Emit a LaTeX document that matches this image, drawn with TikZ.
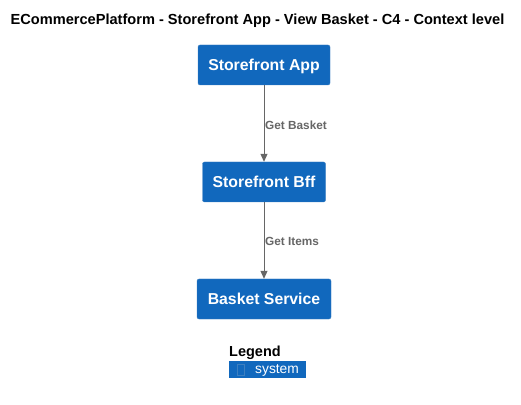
\documentclass[tikz,border=0pt]{standalone}
\usepackage{fontspec}
\setmainfont{Liberation Sans}
\usetikzlibrary{arrows.meta}
\definecolor{sysblue}{HTML}{1168BD}
\definecolor{sysborder}{HTML}{3C7FC0}
\definecolor{relgray}{HTML}{666666}
\tikzset{
  sysbox/.style={draw=sysborder, fill=sysblue, rounded corners=2pt, minimum height=40pt, inner xsep=8pt, text depth=0pt, text=white, font=\bfseries\fontsize{15.8}{17}\selectfont},
  rel/.style={draw=relgray, line width=0.9pt, -{Triangle[length=8pt,width=7pt]}},
  rellabel/.style={text=relgray, font=\bfseries\fontsize{11.8}{13}\selectfont, anchor=west, inner sep=0pt}
}
\begin{document}
\begin{tikzpicture}[x=1pt,y=1pt]
\useasboundingbox (0,0) rectangle (521,404);
\node[font=\bfseries\fontsize{14.6}{16}\selectfont, anchor=center] (title) at (257.5,383) {ECommercePlatform - Storefront App - View Basket - C4 - Context level};
\node[sysbox, minimum width=132pt] (app) at (264,339) {Storefront App};
\node[sysbox, minimum width=123pt] (bff) at (264,222) {Storefront Bff};
\node[sysbox, minimum width=134pt] (basket) at (264,105) {Basket Service};
\draw[rel] (app) -- (bff);
\draw[rel] (bff) -- (basket);
\node[rellabel] (l1) at (265,279) {Get Basket};
\node[rellabel] (l2) at (265,163) {Get Items};
\node[font=\bfseries\fontsize{14.5}{16}\selectfont, anchor=west, inner sep=0pt] (legend) at (229,51) {Legend};
\node[fill=sysblue, minimum width=77pt, minimum height=17pt, inner sep=0pt, anchor=north west] (leg) at (229,43) {};
\node[draw=sysborder, line width=0.5pt, minimum width=7pt, minimum height=11pt, inner sep=0pt] (glyph) at (240.5,34.5) {};
\node[text=white, font=\fontsize{13.8}{15}\selectfont, anchor=west, inner sep=0pt] (legtext) at (255,33.5) {system};
\end{tikzpicture}
\end{document}
